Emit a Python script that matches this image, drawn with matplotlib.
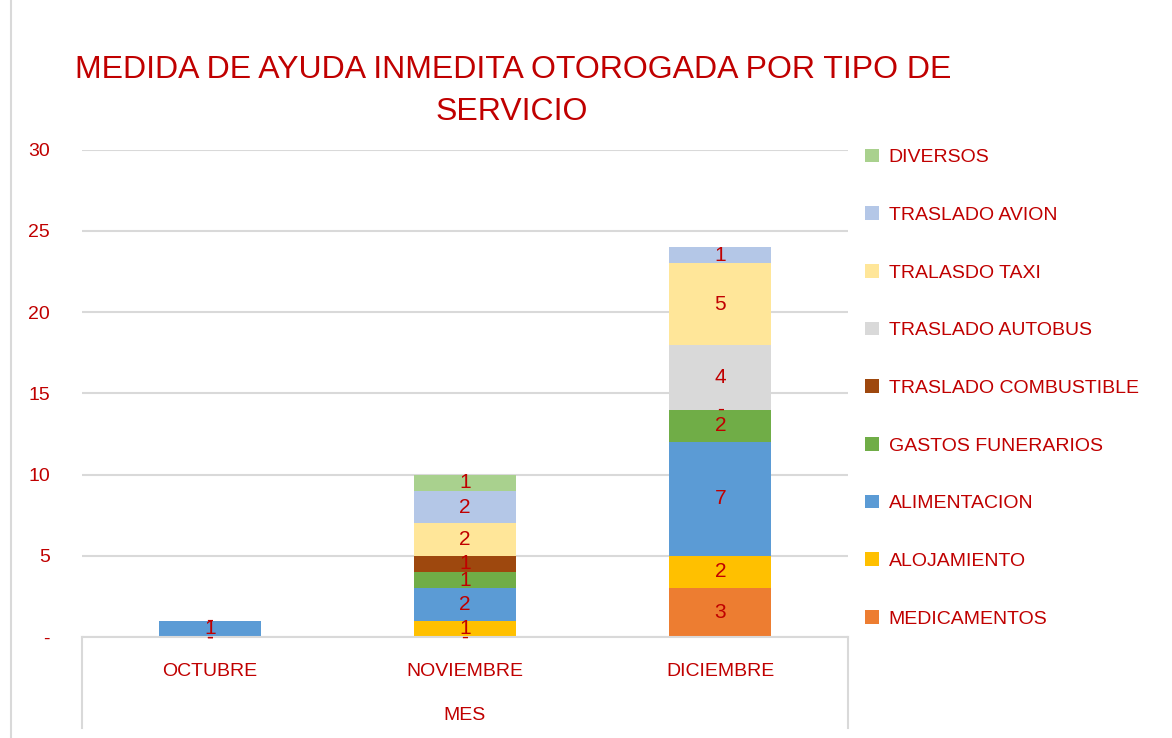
import matplotlib

matplotlib.use("Agg")
import matplotlib.pyplot as plt
import numpy as np
from matplotlib.lines import Line2D

RED = "#C00000"
GRID = "#D9D9D9"
plt.rcParams["font.family"] = ["Liberation Sans", "DejaVu Sans"]

months = ["OCTUBRE", "NOVIEMBRE", "DICIEMBRE"]
series = ["MEDICAMENTOS", "ALOJAMIENTO", "ALIMENTACION", "GASTOS FUNERARIOS",
          "TRASLADO COMBUSTIBLE", "TRASLADO AUTOBUS", "TRALASDO TAXI",
          "TRASLADO AVION", "DIVERSOS"]
colors = ["#ED7D31", "#FFC000", "#5B9BD5", "#70AD47", "#9E480E",
          "#D9D9D9", "#FFE699", "#B4C7E7", "#A9D18E"]
nan = np.nan
medicamentos = [0, 0, 3]
alojamiento = [0, 1, 2]
alimentacion = [1, 2, 7]
gastos_funerarios = [0, 1, 2]
traslado_combustible = [nan, 1, 0]
traslado_autobus = [nan, nan, 4]
tralasdo_taxi = [nan, 2, 5]
traslado_avion = [nan, 2, 1]
diversos = [nan, 1, nan]
values = [medicamentos, alojamiento, alimentacion, gastos_funerarios,
          traslado_combustible, traslado_autobus, tralasdo_taxi,
          traslado_avion, diversos]

fig = plt.figure(figsize=(11.72, 7.38), dpi=100)
ax = fig.add_axes([0.07, 0.137, 0.6535, 0.66])
x = np.arange(len(months))
bottom = np.zeros(len(months))
handles = []
for name, col, vals in zip(series, colors, values):
    v = np.array(vals, dtype=float)
    h = np.nan_to_num(v)
    bars = ax.bar(x, h, 0.4, bottom=bottom, color=col, label=name, zorder=2)
    handles.append(bars)
    # zero values get Excel's accounting dash, empty cells get no label
    for i in range(len(months)):
        if np.isnan(v[i]):
            continue
        txt = "-" if v[i] == 0 else f"{int(v[i])}"
        ax.text(x[i], bottom[i] + h[i] / 2, txt, ha="center", va="center",
                color=RED, fontsize=15, zorder=3)
    bottom += h

ax.set_xlim(-0.5, 2.5); ax.set_ylim(0, 30)
ax.set_yticks(range(0, 31, 5))
ax.set_yticklabels(["-"] + [str(t) for t in range(5, 31, 5)])
ax.yaxis.grid(True, color=GRID, lw=1.5, zorder=0)
ax.set_axisbelow(True)
for s in ["top", "right", "left"]:
    ax.spines[s].set_visible(False)
ax.spines["bottom"].set_color(GRID); ax.spines["bottom"].set_linewidth(1.5)
ax.tick_params(axis="both", length=0, colors=RED, labelsize=14)
ax.tick_params(axis="y", pad=23)
ax.tick_params(axis="x", pad=19)
ax.set_xticks(x); ax.set_xticklabels(months)
ax.set_xlabel("MES", color=RED, fontsize=14, labelpad=19)

# multilevel category box edges
for xa in (0, 1):
    ax.add_line(Line2D([xa, xa], [0, -0.187], transform=ax.transAxes,
                       color=GRID, lw=1.5, clip_on=False))
fig.add_artist(Line2D([0.009, 0.009], [0, 1], color=GRID, lw=1.5))

fig.text(0.438, 0.905, "MEDIDA DE AYUDA INMEDITA OTOROGADA POR TIPO DE",
         ha="center", va="center", color=RED, fontsize=23)
fig.text(0.437, 0.848, "SERVICIO", ha="center", va="center", color=RED, fontsize=23)

ax.legend(handles[::-1], series[::-1], loc="upper left", bbox_to_anchor=(1.0, 1.038),
          frameon=False, fontsize=14, labelcolor=RED, labelspacing=2.06,
          handlelength=0.7, handleheight=0.7, handletextpad=0.5)

fig.savefig("out.png", dpi=100)
